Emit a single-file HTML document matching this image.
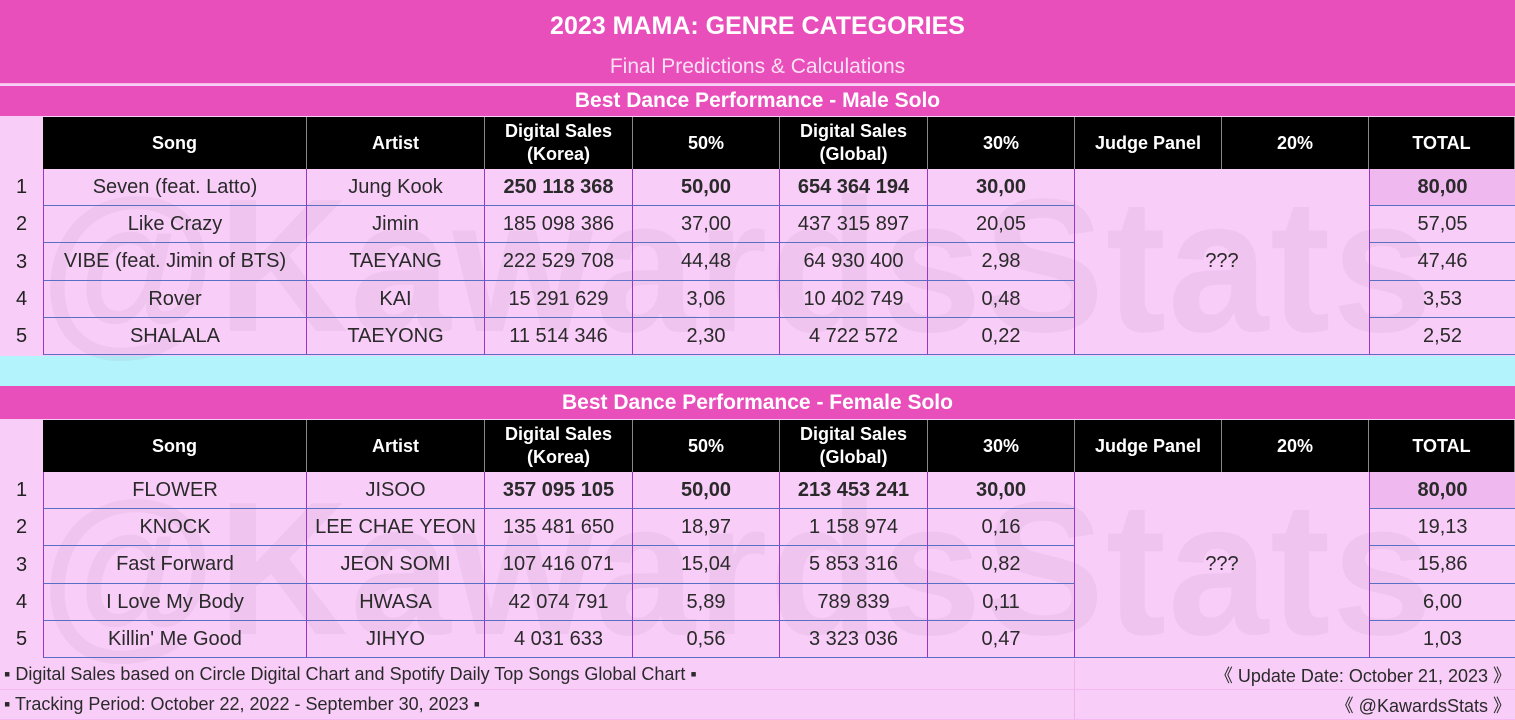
<!DOCTYPE html>
<html><head><meta charset="utf-8"><style>
body{margin:0;width:1515px;height:720px;overflow:hidden;background:#f8cdf8;font-family:"Liberation Sans",sans-serif;position:relative}
.a{position:absolute;box-sizing:border-box;display:flex;align-items:center;justify-content:center;white-space:nowrap}
.wm{position:absolute;font-size:190px;font-weight:bold;color:rgba(150,110,160,0.09);letter-spacing:2px;left:40px;pointer-events:none;transform:scaleX(0.95);transform-origin:left}
</style></head><body>
<div class="a" style="left:0;top:0;width:1515px;height:84px;background:#e94fbb;border-bottom:1px solid #f7b7e6"></div>
<div class="a" style="left:0;top:6px;width:1515px;height:40px;color:#fff;font-size:25px;font-weight:bold">2023 MAMA: GENRE CATEGORIES</div>
<div class="a" style="left:0;top:52px;width:1515px;height:30px;color:#fbe0f4;font-size:21px">Final Predictions &amp; Calculations</div>
<div class="a" style="left:0;top:356px;width:1515px;height:30px;background:#b3f3fb"></div>
<div id="root"></div>
<script>
const cols=[43,307,485,633,780,928,1075,1222,1369,1515];
const headers=["Song","Artist","Digital Sales<br>(Korea)","50%","Digital Sales<br>(Global)","30%","Judge Panel","20%","TOTAL"];
const maleSongs=["Seven (feat. Latto)","Like Crazy","VIBE (feat. Jimin of BTS)","Rover","SHALALA"];
const maleArtists=["Jung Kook","Jimin","TAEYANG","KAI","TAEYONG"];
const maleKorea=["250 118 368","185 098 386","222 529 708","15 291 629","11 514 346"];
const maleKoreaPct=["50,00","37,00","44,48","3,06","2,30"];
const maleGlobal=["654 364 194","437 315 897","64 930 400","10 402 749","4 722 572"];
const maleGlobalPct=["30,00","20,05","2,98","0,48","0,22"];
const maleTotal=["80,00","57,05","47,46","3,53","2,52"];
const femSongs=["FLOWER","KNOCK","Fast Forward","I Love My Body","Killin' Me Good"];
const femArtists=["JISOO","LEE CHAE YEON","JEON SOMI","HWASA","JIHYO"];
const femKorea=["357 095 105","135 481 650","107 416 071","42 074 791","4 031 633"];
const femKoreaPct=["50,00","18,97","15,04","5,89","0,56"];
const femGlobal=["213 453 241","1 158 974","5 853 316","789 839","3 323 036"];
const femGlobalPct=["30,00","0,16","0,82","0,11","0,47"];
const femTotal=["80,00","19,13","15,86","6,00","1,03"];
const root=document.getElementById('root');
function box(x,y,w,h,html,style,name){const d=document.createElement('div');d.className='a';d.style.cssText=`left:${x}px;top:${y}px;width:${w}px;height:${h}px;`+(style||'');d.innerHTML=html;


root.appendChild(d);return d;}
function section(top,sh,title,key,songs,artists,kor,korP,glob,globP,tot){
 box(0,top,1515,sh,title,'background:#e94fbb;color:#fff;font-size:21px;font-weight:bold;',key+'-section-header');
 const hy=top+sh+1,hh=52;
 const wm=document.createElement('div');wm.className='wm';wm.style.top=(hy+40)+'px';wm.textContent='@KawardsStats';
 
 
 root.appendChild(wm);
 for(let c=0;c<9;c++){box(cols[c],hy,cols[c+1]-cols[c],hh,headers[c],'background:#000;color:#fff;font-weight:bold;font-size:18px;text-align:center;line-height:23px;border-right:1px solid #888;',key+'-header-'+c);}
 const rh=37.2,ry=hy+hh;
 for(let r=0;r<5;r++){
  const y=Math.round(ry+r*rh),h=Math.round(ry+(r+1)*rh)-y;
  box(0,y,43,h,String(r+1),'font-size:20px;color:#222;',key+'-rank-'+(r+1));
  const vals=[songs[r],artists[r],kor[r],korP[r],glob[r],globP[r]];
  for(let c=0;c<6;c++){box(cols[c],y,cols[c+1]-cols[c],h,vals[c],'font-size:20px;color:#2a2a2a;border-right:1px solid #9a35c8;border-bottom:1px solid #5a6ec8;'+(c==0?'border-left:1px solid #9a35c8;':'')+(r==0&&c>=2?'font-weight:bold;':''),key+'-cell-'+r+'-'+c);}
  box(cols[8],y,cols[9]-cols[8],h,tot[r],'font-size:20px;color:#2a2a2a;border-left:1px solid #9a35c8;border-bottom:1px solid #5a6ec8;'+(r==0?'font-weight:bold;background:#efb8ef;':''),key+'-total-'+(r+1));
 }
 box(cols[6],ry,cols[8]-cols[6],Math.round(5*rh),'???','font-size:20px;color:#2a2a2a;border-bottom:1px solid #5a6ec8;',key+'-judge-panel');
}
section(86,30,'Best Dance Performance - Male Solo','male',maleSongs,maleArtists,maleKorea,maleKoreaPct,maleGlobal,maleGlobalPct,maleTotal);
section(386,33,'Best Dance Performance - Female Solo','female',femSongs,femArtists,femKorea,femKoreaPct,femGlobal,femGlobalPct,femTotal);
const fs='font-size:18px;color:#2a2a2a;border-bottom:1px solid #f5b8f0;';
box(0,660,1075,30,'▪ Digital Sales based on Circle Digital Chart and Spotify Daily Top Songs Global Chart ▪',fs+'justify-content:flex-start;padding-left:4px;border-right:1px solid #f0b0ea;','footer-note-source');
box(1075,660,440,30,'《 Update Date: October 21, 2023 》',fs+'justify-content:flex-end;padding-right:4px;','footer-update-date');
box(0,690,1075,30,'▪ Tracking Period: October 22, 2022 - September 30, 2023 ▪',fs+'justify-content:flex-start;padding-left:4px;border-right:1px solid #f0b0ea;','footer-tracking-period');
box(1075,690,440,30,'《 @KawardsStats 》',fs+'justify-content:flex-end;padding-right:4px;','footer-handle');
</script>
</body></html>
